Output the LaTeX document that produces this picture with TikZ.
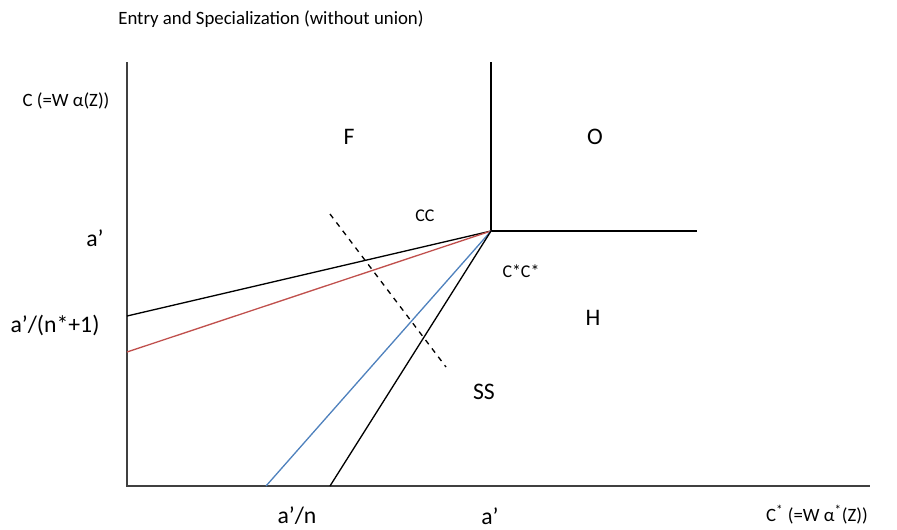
\documentclass[tikz,border=0pt]{standalone}
\usepackage{fontspec}
\setmainfont{Carlito}

\definecolor{redline}{RGB}{192,80,77}
\definecolor{blueline}{RGB}{79,129,189}

\tikzset{
  axis/.style={draw=black!75, line width=0.9pt},
  curve/.style={line width=0.75pt},
  biglabel/.style={font=\fontsize{13.5}{16}\selectfont, inner sep=0pt},
  smalllabel/.style={font=\fontsize{10.2}{12}\selectfont, inner sep=0pt},
  axislabel/.style={font=\fontsize{10.7}{13}\selectfont, inner sep=0pt}
}

\begin{document}
\begin{tikzpicture}[x=0.02cm,y=-0.02cm]
\useasboundingbox (0,0) rectangle (897,529);

\coordinate (origin) at (127,486);
\coordinate (ytop) at (127,62);
\coordinate (xend) at (870,486);
\coordinate (kink) at (491,231);
\coordinate (vtop) at (491,62);
\coordinate (hend) at (697,231);
\coordinate (blackleft) at (127,316);
\coordinate (redleft) at (127,352);
\coordinate (bluefoot) at (266,486);
\coordinate (blackfoot) at (330,486);
\coordinate (dashtop) at (330,214);
\coordinate (dashbot) at (446,367);

% axes
\draw[axis] (ytop) -- (origin) -- (xend);

% regime borders
\draw[curve] (vtop) -- (kink) -- (hend);
\draw[curve] (blackleft) -- (kink);
\draw[curve, redline] (redleft) -- (kink);
\draw[curve, blueline] (bluefoot) -- (kink);
\draw[curve] (blackfoot) -- (kink);
\draw[curve, dashed] (dashtop) -- (dashbot);

% labels
\node[axislabel] (title) at (271,19) {Entry and Specialization (without union)};
\node[axislabel] (ylab) at (66,101) {C (=W α(Z))};
\node[axislabel] (xlab) at (817,515) {C\textsuperscript{*} (=W α\textsuperscript{*}(Z))};

\node[biglabel] (F) at (349,137) {F};
\node[biglabel] (O) at (595,137) {O};
\node[biglabel] (H) at (593,318) {H};
\node[biglabel] (SS) at (484,392) {SS};
\node[smalllabel] (CC) at (425,216) {CC};
\node[smalllabel] (CsCs) at (521,271) {C*C*};

\node[biglabel] (yhigh) at (95,238) {a’};
\node[biglabel] (ylow) at (55,325) {a’/(n*+1)};
\node[biglabel] (xlow) at (297,516) {a’/n};
\node[biglabel] (xhigh) at (490,516) {a’};
\end{tikzpicture}
\end{document}
